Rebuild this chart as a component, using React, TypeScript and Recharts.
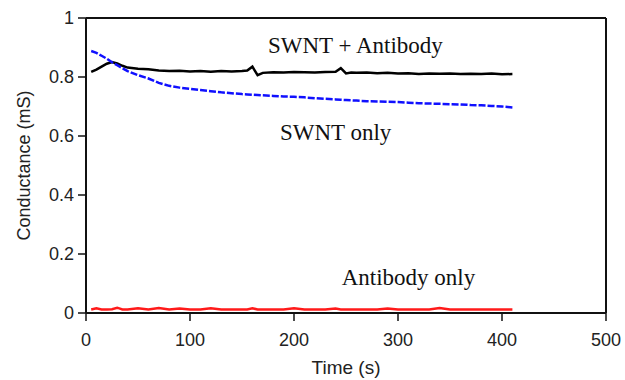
import React from 'react';
import { LineChart, Line, XAxis, YAxis, ReferenceLine, ReferenceDot } from 'recharts';

const times = [5, 10, 15, 20, 25, 30, 35, 40, 50, 60, 70, 80, 90, 100, 110, 120, 130, 140, 150, 155, 160, 165, 170, 180, 190, 200, 210, 220, 230, 240, 245, 250, 255, 260, 270, 280, 290, 300, 310, 320, 330, 340, 350, 360, 370, 380, 390, 400, 410];

const swntAntibody = [0.817, 0.825, 0.835, 0.845, 0.851, 0.846, 0.838, 0.832, 0.828, 0.826, 0.822, 0.82, 0.821, 0.819, 0.82, 0.818, 0.82, 0.819, 0.82, 0.822, 0.835, 0.806, 0.814, 0.816, 0.815, 0.817, 0.816, 0.815, 0.817, 0.818, 0.83, 0.812, 0.815, 0.814, 0.815, 0.813, 0.814, 0.812, 0.813, 0.81, 0.812, 0.811, 0.812, 0.81, 0.811, 0.81, 0.812, 0.809, 0.81];

const swntOnly = [0.888, 0.882, 0.872, 0.862, 0.85, 0.84, 0.83, 0.82, 0.806, 0.795, 0.78, 0.77, 0.764, 0.76, 0.756, 0.752, 0.748, 0.745, 0.742, 0.741, 0.74, 0.739, 0.738, 0.736, 0.734, 0.733, 0.731, 0.728, 0.726, 0.724, 0.723, 0.722, 0.721, 0.72, 0.718, 0.717, 0.716, 0.715, 0.713, 0.711, 0.71, 0.709, 0.708, 0.707, 0.705, 0.704, 0.702, 0.7, 0.697];

const antibodyOnly = [0.012, 0.016, 0.012, 0.012, 0.013, 0.018, 0.012, 0.012, 0.016, 0.012, 0.017, 0.012, 0.015, 0.012, 0.012, 0.016, 0.012, 0.012, 0.012, 0.012, 0.016, 0.012, 0.012, 0.012, 0.012, 0.016, 0.012, 0.012, 0.012, 0.015, 0.012, 0.012, 0.012, 0.012, 0.012, 0.012, 0.015, 0.012, 0.012, 0.012, 0.012, 0.017, 0.012, 0.012, 0.012, 0.012, 0.012, 0.012, 0.012];

const xTicks = [0, 100, 200, 300, 400, 500];
const yTicks = [0, 0.2, 0.4, 0.6, 0.8, 1];

const annotations = [
  { text: 'SWNT + Antibody', t: 259, v: 0.908 },
  { text: 'SWNT only', t: 240, v: 0.614 },
  { text: 'Antibody only', t: 310, v: 0.122 },
];

const data = times.map((t, i) => ({
  t,
  a: swntAntibody[i],
  s: swntOnly[i],
  r: antibodyOnly[i],
}));

const tickStyle = { fontSize: 18, fontFamily: 'Liberation Sans, Arial, sans-serif', fill: '#222' };

export default function App() {
  return (
    <div style={{ position: 'absolute', left: 0, top: 0, background: '#fff' }}>
      <LineChart width={625} height={380} data={data} margin={{ top: 18, right: 19, left: 0, bottom: 0 }}>
        <XAxis
          dataKey="t"
          type="number"
          domain={[0, 500]}
          ticks={xTicks}
          tick={tickStyle}
          tickSize={8}
          tickMargin={12}
          height={67}
          axisLine={{ stroke: '#111', strokeWidth: 2 }}
          tickLine={{ stroke: '#111', strokeWidth: 1.5 }}
          label={{ value: 'Time (s)', position: 'insideBottom', offset: 6, fontSize: 19, fontFamily: 'Liberation Sans, Arial, sans-serif', fill: '#222' }}
        />
        <YAxis
          type="number"
          domain={[0, 1]}
          ticks={yTicks}
          tick={tickStyle}
          tickSize={8}
          tickMargin={4}
          width={86}
          axisLine={{ stroke: '#111', strokeWidth: 2 }}
          tickLine={{ stroke: '#111', strokeWidth: 1.5 }}
          label={{ value: 'Conductance (mS)', angle: -90, position: 'insideLeft', offset: 24, style: { textAnchor: 'middle' }, fontSize: 18, fontFamily: 'Liberation Sans, Arial, sans-serif', fill: '#222' }}
        />
        <ReferenceLine y={1} stroke="#111" strokeWidth={2} />
        <ReferenceLine x={500} stroke="#111" strokeWidth={2} />
        <Line dataKey="a" stroke="#000" strokeWidth={2.5} dot={false} isAnimationActive={false} />
        <Line dataKey="s" stroke="#1010ff" strokeWidth={2.5} strokeDasharray="7 2" dot={false} isAnimationActive={false} />
        <Line dataKey="r" stroke="#ff1a1a" strokeWidth={2.5} dot={false} isAnimationActive={false} />
        {annotations.map((a) => (
          <ReferenceDot
            key={a.text}
            x={a.t}
            y={a.v}
            r={1}
            fill="none"
            stroke="none"
            label={{ value: a.text, position: 'center', fontSize: 23, fontFamily: 'Liberation Serif, Times New Roman, serif', fill: '#111' }}
          />
        ))}
      </LineChart>
    </div>
  );
}
